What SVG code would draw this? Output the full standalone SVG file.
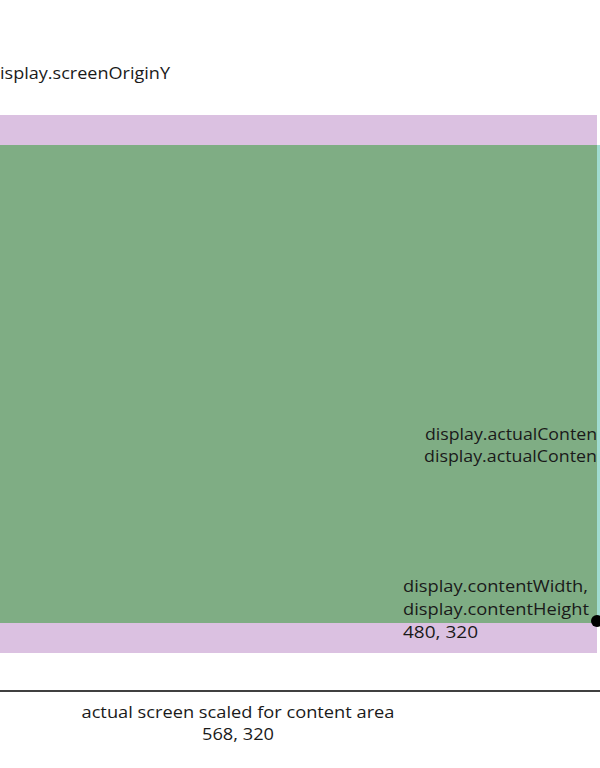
<svg xmlns="http://www.w3.org/2000/svg" width="600" height="768" viewBox="0 0 600 768">
<style>
text{font-family:"Open Sans","DejaVu Sans",sans-serif;font-size:17px;fill:#1a1a1a}
.mid{text-anchor:middle}
</style>
<rect width="600" height="768" fill="#ffffff"/>
<g id="screen">
<rect x="0" y="115" width="597" height="538" fill="#dbc1e1"/>
</g>
<g id="content">
<rect x="0" y="145" width="597" height="478" fill="#7fad84"/>
</g>
<g id="labels">
<text x="0" y="79" textLength="170" lengthAdjust="spacingAndGlyphs">isplay.screenOriginY</text>
<text x="425" y="440" textLength="172" lengthAdjust="spacingAndGlyphs">display.actualConten</text>
<text x="424" y="462" textLength="173" lengthAdjust="spacingAndGlyphs">display.actualConten</text>
<text x="403" y="592" textLength="185" lengthAdjust="spacingAndGlyphs">display.contentWidth,</text>
<text x="403" y="615" textLength="186" lengthAdjust="spacingAndGlyphs">display.contentHeight</text>
<text x="403" y="638" textLength="75" lengthAdjust="spacingAndGlyphs">480, 320</text>
<text x="238" y="718" class="mid" textLength="313" lengthAdjust="spacingAndGlyphs">actual screen scaled for content area</text>
<text x="238" y="740" class="mid" textLength="72" lengthAdjust="spacingAndGlyphs">568, 320</text>
</g>
<g id="edge">
<rect x="597" y="145" width="3" height="478" fill="#a0dcd0"/>
</g>
<g id="connectors">
<line x1="0" y1="691" x2="600" y2="691" stroke="#000" stroke-width="1.5"/>
<circle cx="597" cy="621" r="6" fill="#000"/>
</g>
</svg>
